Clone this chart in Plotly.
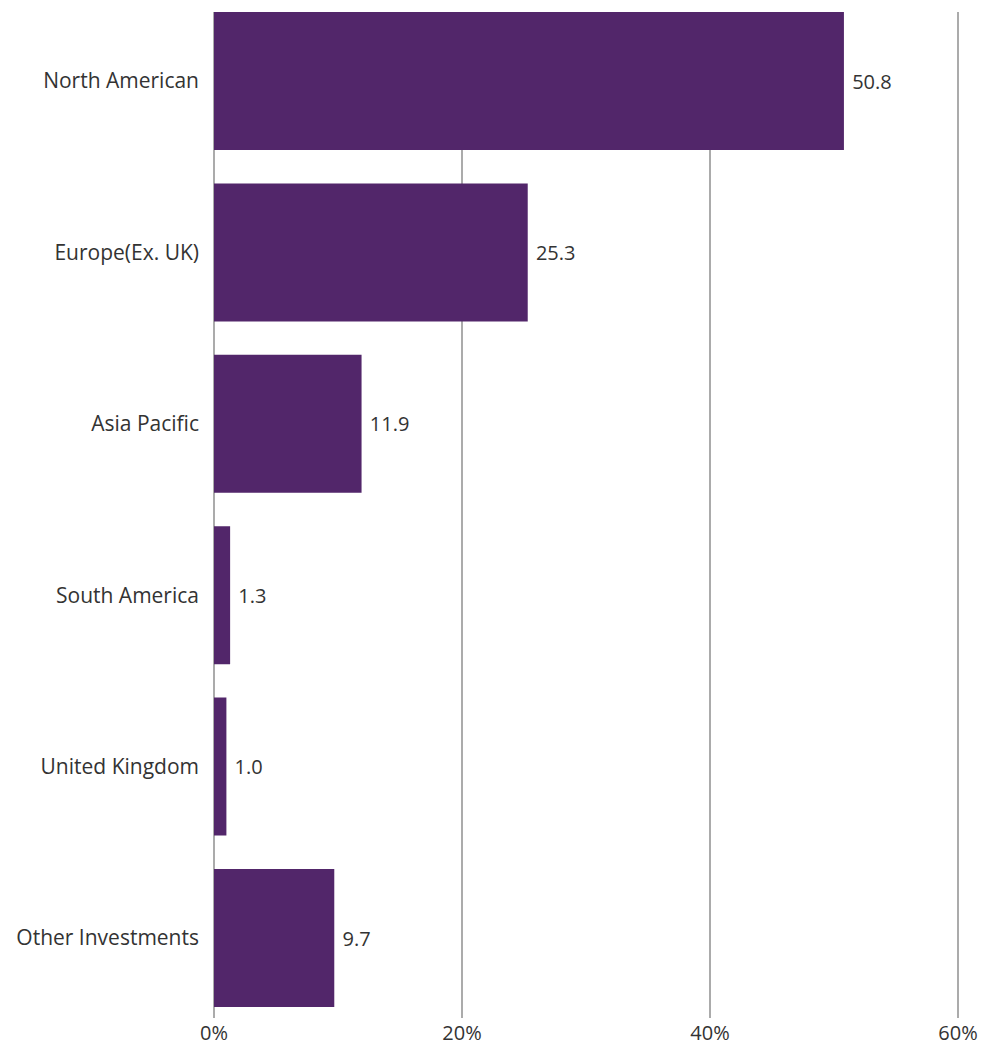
import plotly.graph_objects as go

categories = ["North American", "Europe(Ex. UK)", "Asia Pacific", "South America",
              "United Kingdom", "Other Investments"]
values = [50.8, 25.3, 11.9, 1.3, 1.0, 9.7]
x_ticks = [0, 20, 40, 60]
x_tick_labels = ["0%", "20%", "40%", "60%"]

BAR = "#52266A"
GRID = "#ABABAB"
FONT = "Open Sans, sans-serif"
TXT = "#333333"

fig = go.Figure(go.Bar(
    y=categories,
    x=values,
    orientation="h",
    marker=dict(color=BAR, line=dict(width=0)),
    text=[" " + f"{v:.1f}" for v in values],
    textposition="outside",
    textfont=dict(family=FONT, size=20, color=TXT),
    cliponaxis=False,
))

fig.update_layout(
    width=984, height=1046,
    margin=dict(l=214, r=24, t=12, b=28),
    paper_bgcolor="white", plot_bgcolor="white",
    bargap=0.195,
    showlegend=False,
    font=dict(family=FONT, size=20, color=TXT),
)
fig.update_xaxes(
    range=[0, 60.16],
    tickvals=x_ticks, ticktext=x_tick_labels,
    showgrid=True, gridcolor=GRID, gridwidth=1.5,
    zeroline=True, zerolinecolor=GRID, zerolinewidth=1.5,
    showline=False, ticks="", ticklen=0,
    ticklabelstandoff=1,
    automargin=False,
    tickfont=dict(family=FONT, size=20, color=TXT),
)
fig.update_yaxes(
    categoryorder="array", categoryarray=categories,
    range=[5.4667, -0.4026],
    showgrid=False, zeroline=False, showline=False,
    ticks="", ticklabelstandoff=14,
    automargin=False,
    tickfont=dict(family=FONT, size=21, color=TXT),
)

fig.write_html("out.html")
